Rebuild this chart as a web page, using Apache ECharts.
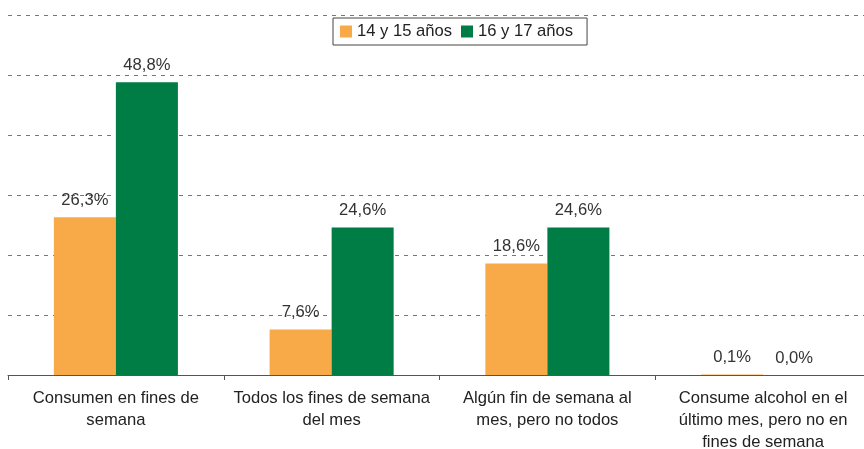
<!DOCTYPE html>
<html><head><meta charset="utf-8">
<script src="https://cdn.jsdelivr.net/npm/echarts@6/dist/echarts.min.js"></script>
<style>html,body{margin:0;padding:0;background:#fff}#c{width:864px;height:449px}</style>
</head><body><div id="c"></div>
<script>
var categories = ["Consumen en fines de\nsemana", "Todos los fines de semana\ndel mes", "Algún fin de semana al\nmes, pero no todos", "Consume alcohol en el\núltimo mes, pero no en\nfines de semana"];
var seriesNames = ["14 y 15 años", "16 y 17 años"];
var values1415 = [26.3, 7.6, 18.6, 0.1];
var values1617 = [48.8, 24.6, 24.6, 0.0];

var chart = echarts.init(document.getElementById('c'));
var font = 'Liberation Sans, Arial, sans-serif';
var fs = 16.6;
function lbl(){
  return {show:true, position:'top', distance:8, color:'#333', fontSize:fs, fontFamily:font,
    formatter:function(p){return p.value.toFixed(1).replace('.', ',') + '%';}};
}
chart.setOption({
  animation:false,
  legend:{
    data:seriesNames, top:18, left:333, itemWidth:12, itemHeight:12, itemGap:9,
    borderColor:'#444', borderWidth:1, padding:[5,14,5,7], borderRadius:0,
    textStyle:{fontSize:fs, color:'#222', fontFamily:font}, icon:'rect'
  },
  grid:{left:8, right:-7, top:15, bottom:74, containLabel:false, outerBoundsMode:'none'},
  xAxis:{type:'category', data:categories,
    axisLine:{lineStyle:{color:'#555', width:1}},
    axisTick:{show:true, length:5, lineStyle:{color:'#555'}},
    axisLabel:{interval:0, fontSize:fs, color:'#222', fontFamily:font, margin:12, lineHeight:22}
  },
  yAxis:{type:'value', min:0, max:60, interval:10,
    axisLabel:{show:false}, axisLine:{show:false}, axisTick:{show:false},
    splitLine:{show:true, lineStyle:{color:'#777', type:[4,5], width:1}}
  },
  series:[
    {name:seriesNames[0], type:'bar', data:values1415, barGap:'0%', barCategoryGap:'42.5%',
      itemStyle:{color:'#F7AA47'}, label:lbl()},
    {name:seriesNames[1], type:'bar', data:values1617,
      itemStyle:{color:'#007C45'}, label:lbl()}
  ]
});
</script></body></html>
